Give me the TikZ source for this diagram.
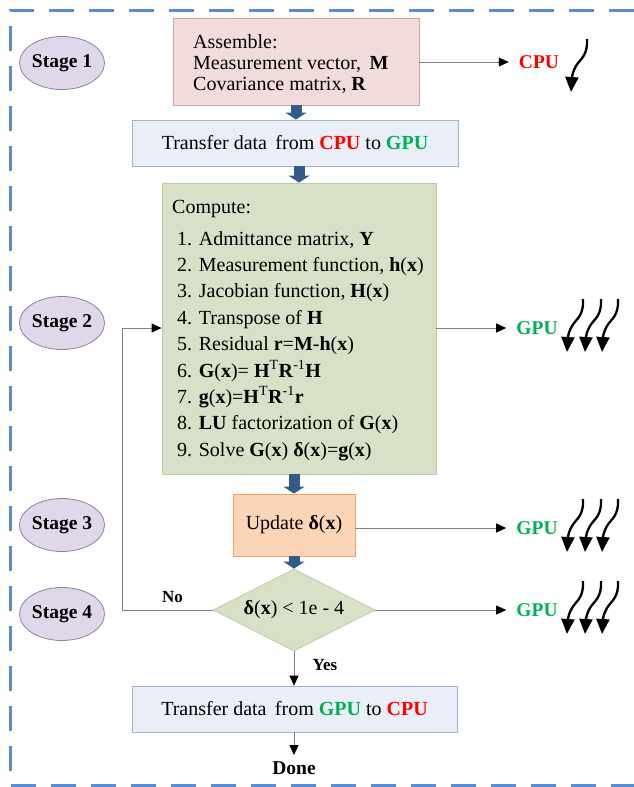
\documentclass[tikz,border=0pt]{standalone}
\usepackage{fontspec}
\setmainfont{Liberation Serif}
\usetikzlibrary{arrows.meta,shapes.geometric}
\definecolor{frameblue}{RGB}{88,140,212}
\definecolor{stagefill}{RGB}{224,216,234}
\definecolor{stagedraw}{RGB}{140,130,168}
\definecolor{asmfill}{RGB}{242,220,219}
\definecolor{asmdraw}{RGB}{217,160,158}
\definecolor{trfill}{RGB}{234,239,247}
\definecolor{trdraw}{RGB}{160,180,210}
\definecolor{cmpfill}{RGB}{216,224,200}
\definecolor{cmpdraw}{RGB}{190,205,160}
\definecolor{updfill}{RGB}{251,213,181}
\definecolor{upddraw}{RGB}{240,160,96}
\definecolor{blockblue}{RGB}{50,90,138}
\definecolor{cpured}{RGB}{255,0,0}
\definecolor{gpugreen}{RGB}{0,176,80}
\definecolor{linegray}{RGB}{128,128,128}
\newcommand\squig[2]{\draw[squigline] (#1+16,#2-53) .. controls (#1+17,#2-36) and (#1+9,#2-33) .. (#1+5,#2-26) .. controls (#1+2,#2-21) and (#1+1,#2-16) .. (#1,#2);}
\newcommand\squigthree[2]{\squig{#1}{#2}\squig{#1+18}{#2}\squig{#1+35}{#2}}
\begin{document}
\begin{tikzpicture}[x=1pt,y=-1pt,
  stage/.style={ellipse,draw=stagedraw,fill=stagefill,line width=0.8pt,minimum width=84pt,minimum height=53pt,inner sep=0pt,font=\fontsize{19.5}{22}\selectfont\bfseries},
  boxnode/.style={rectangle,line width=0.8pt,inner sep=0pt},
  txt/.style={inner sep=0pt,font=\fontsize{20}{24}\selectfont},
  proc/.style={inner sep=0pt,font=\fontsize{19.5}{22}\selectfont\bfseries},
  lbl/.style={inner sep=0pt,font=\fontsize{17}{20}\selectfont\bfseries},
  blockarrow/.style={draw=blockblue,line width=11pt,-{Triangle[length=7pt,width=21pt]}},
  conn/.style={draw=linegray,line width=0.8pt,-{Triangle[length=10pt,width=9pt,color=black]}},
  squigline/.style={line width=2.3pt,-{Triangle[length=15pt,width=13pt]}}
]
\useasboundingbox (0,0) rectangle (634,787);
% frame
\draw[frameblue,line width=3pt,dash pattern=on 25pt off 15pt] (634,10) -- (10,10) -- (10,785) -- (634,785);
% stages
\node[stage] (s1) at (62,63) {Stage 1};
\node[stage] (s2) at (62,323) {Stage 2};
\node[stage] (s3) at (62,525) {Stage 3};
\node[stage] (s4) at (62,614) {Stage 4};
% assemble
\node[boxnode,fill=asmfill,draw=asmdraw,minimum width=246pt,minimum height=87pt] (asm) at (296,61.5) {};
\node[txt,anchor=base west] (a1) at (193,48) {Assemble:};
\node[txt,anchor=base west] (a2) at (193,69) {Measurement vector,\, \textbf{M}};
\node[txt,anchor=base west] (a3) at (193,90) {Covariance matrix, \textbf{R}};
% transfer 1
\node[boxnode,fill=trfill,draw=trdraw,minimum width=326pt,minimum height=46pt,font=\fontsize{20}{24}\selectfont] (t1) at (295,143) {Transfer data\, from \textcolor{cpured}{\textbf{CPU}} to \textcolor{gpugreen}{\textbf{GPU}}};
% compute
\node[boxnode,fill=cmpfill,draw=cmpdraw,minimum width=274pt,minimum height=291pt] (cmp) at (299,328.5) {};
\node[txt,anchor=base west] (c0) at (172,213) {Compute:};
\node[txt,anchor=base west] (c1) at (177,245) {1. Admittance matrix, \textbf{Y}};
\node[txt,anchor=base west] (c2) at (177,271.4) {2. Measurement function, \textbf{h}(\textbf{x})};
\node[txt,anchor=base west] (c3) at (177,297.8) {3. Jacobian function, \textbf{H}(\textbf{x})};
\node[txt,anchor=base west] (c4) at (177,324.2) {4. Transpose of \textbf{H}};
\node[txt,anchor=base west] (c5) at (177,350.6) {5. Residual \textbf{r}=\textbf{M}-\textbf{h}(\textbf{x})};
\node[txt,anchor=base west] (c6) at (177,377) {6. \textbf{G}(\textbf{x})= \textbf{H}\textsuperscript{T}\textbf{R}\textsuperscript{-1}\textbf{H}};
\node[txt,anchor=base west] (c7) at (177,403.4) {7. \textbf{g}(\textbf{x})=\textbf{H}\textsuperscript{T}\textbf{R}\textsuperscript{-1}\textbf{r}};
\node[txt,anchor=base west] (c8) at (177,429.8) {8. \textbf{LU} factorization of \textbf{G}(\textbf{x})};
\node[txt,anchor=base west] (c9) at (177,456.2) {9. Solve \textbf{G}(\textbf{x}) \textbf{δ}(\textbf{x})=\textbf{g}(\textbf{x})};
% update
\node[boxnode,fill=updfill,draw=upddraw,minimum width=122pt,minimum height=62pt,font=\fontsize{20}{24}\selectfont] (upd) at (294,525) {Update \textbf{δ}(\textbf{x})};
% decision
\node[diamond,fill=cmpfill,draw=cmpdraw,line width=0.8pt,minimum width=162pt,minimum height=82pt,inner sep=0pt,aspect=2,font=\fontsize{20}{24}\selectfont] (dec) at (294,610) {\textbf{δ}(\textbf{x}) < 1e - 4};
% transfer 2
\node[boxnode,fill=trfill,draw=trdraw,minimum width=325pt,minimum height=46pt,font=\fontsize{20}{24}\selectfont] (t2) at (294.5,709) {Transfer data\, from \textcolor{gpugreen}{\textbf{GPU}} to \textcolor{cpured}{\textbf{CPU}}};
\node[proc] (done) at (294,768) {Done};
\coordinate (doneTop) at (294,755);
% block arrows
\draw[blockarrow] (asm.south) -- (asm.south |- t1.north);
\draw[blockarrow] (t1.south -| cmp.north) -- (cmp.north);
\draw[blockarrow] (cmp.south -| upd.north) -- (upd.north);
\draw[blockarrow] (upd.south) -- (dec.north);
% flow connectors
\draw[conn] (dec.south) -- (dec.south |- t2.north);
\draw[conn] (t2.south -| done) -- (doneTop);
\coordinate (loopA) at (122,610);
\coordinate (loopB) at (122,328);
\draw[conn] (dec.west) -- (loopA) -- (loopB) -- (cmp.west |- loopB);
\node[lbl] (no) at (172.5,597) {No};
\node[lbl] (yes) at (325,665) {Yes};
% processor labels
\node[proc,text=cpured] (cpu1) at (539,62) {CPU};
\node[proc,text=gpugreen] (gpu2) at (537,328) {GPU};
\node[proc,text=gpugreen] (gpu3) at (537,528) {GPU};
\node[proc,text=gpugreen] (gpu4) at (537,610) {GPU};
\draw[conn] (asm.east |- cpu1) -- ([xshift=-10pt]cpu1.west);
\draw[conn] (cmp.east |- gpu2) -- ([xshift=-10pt]gpu2.west);
\draw[conn] (upd.east |- gpu3) -- ([xshift=-10pt]gpu3.west);
\draw[conn] (dec.east |- gpu4) -- ([xshift=-10pt]gpu4.west);
% thread squiggles
\squig{571}{92}
\squigthree{567}{352}
\squigthree{567}{552}
\squigthree{567}{634}
\end{tikzpicture}
\end{document}
